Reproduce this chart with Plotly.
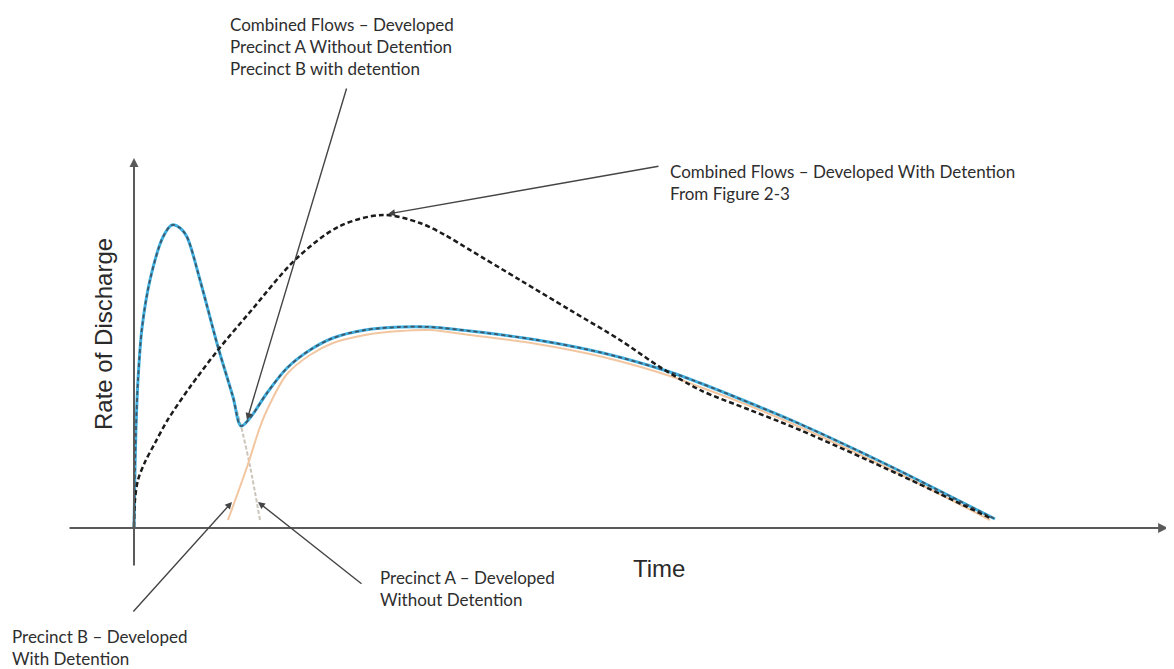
import plotly.graph_objects as go

# ---- data (time units, discharge units; arbitrary schematic scale) ----
# Precinct A - developed without detention (sharp early peak)
a_time = [0, 1, 2, 4, 8, 16, 29, 38, 46, 53, 66, 84, 99, 107, 116, 126]
a_flow = [0, 60, 100, 148, 200, 248, 291, 303, 300, 291, 248, 181, 131, 102, 62, 8]

# Precinct B - developed with detention (delayed, attenuated)
b_time = [94, 113, 126, 133, 153, 176, 199, 231, 266, 296, 336, 403, 469, 536,
          566, 616, 666, 716, 766, 856]
b_flow = [8, 61, 101, 118, 154, 173, 185, 193, 197, 198, 193, 184, 171, 152,
          141, 122, 101, 78, 54, 8]

# Combined flows - Precinct A without detention + Precinct B with detention
c_time = [0, 1, 2, 4, 8, 16, 29, 38, 46, 53, 66, 84, 99, 107, 116, 133, 153,
          176, 199, 231, 266, 296, 336, 403, 469, 536, 566, 616, 666, 716, 766, 861]
c_flow = [0, 60, 100, 148, 200, 248, 291, 303, 300, 291, 248, 181, 131, 102, 110, 135, 160,
          178, 190, 198, 201, 201, 197, 188, 175, 156, 145, 125, 104, 81, 57, 9]

# Combined flows - developed with detention (from Figure 2-3)
d_time = [0, 1, 4, 11, 21, 33, 56, 84, 116, 163, 206, 249, 286, 311, 336, 386,
          436, 486, 526, 566, 616, 666, 766, 856]
d_flow = [1, 28, 48, 66, 85, 107, 141, 178, 216, 270, 302, 313, 305, 293, 278, 248,
          218, 188, 161, 138, 118, 98, 53, 10]

x_label = "Time"
y_label = "Rate of Discharge"

label_top = "Combined Flows – Developed<br>Precinct A Without Detention<br>Precinct B with detention"
label_det = "Combined Flows – Developed With Detention<br>From Figure 2-3"
label_a = "Precinct A – Developed<br>Without Detention"
label_b = "Precinct B – Developed<br>With Detention"

# ---- figure ----
fig = go.Figure()
spl = dict(shape="spline", smoothing=0.9)

fig.add_trace(go.Scatter(x=a_time, y=a_flow, mode="lines",
                         line=dict(color="#cbc4b8", width=2, dash="4px,2px", **spl)))
fig.add_trace(go.Scatter(x=b_time, y=b_flow, mode="lines",
                         line=dict(color="#f2c6a0", width=2, **spl)))
fig.add_trace(go.Scatter(x=c_time, y=c_flow, mode="lines",
                         line=dict(color="#3fb0e0", width=3, **spl)))
fig.add_trace(go.Scatter(x=c_time, y=c_flow, mode="lines",
                         line=dict(color="#3d5566", width=1.8, dash="4px,3px", **spl)))
fig.add_trace(go.Scatter(x=d_time, y=d_flow, mode="lines",
                         line=dict(color="#1b1b1b", width=2.5, dash="5px,3px", **spl)))

txt_font = dict(family="Lato, 'Open Sans', sans-serif", size=17, color="#2e2e2e")
arrow_col = "#454545"

def arrow(tip, tail, width=1.4, size=1.0, color=arrow_col, head=2):
    fig.add_annotation(x=tip[0], y=tip[1], ax=tail[0], ay=tail[1],
                       xref="x", yref="y", axref="x", ayref="y",
                       text="", showarrow=True, arrowhead=head, arrowsize=size,
                       arrowwidth=width, arrowcolor=color, standoff=0, startstandoff=0)

# axes drawn as arrows
arrow((1034, 0), (-66, 0), width=2.2, size=0.9, color="#5a5a5a")
arrow((0, 370), (0, -39), width=2.0, size=0.9, color="#5a5a5a")

# callout arrows
arrow((113, 108), (213, 441))   # top combined label
arrow((254, 314), (526, 362))   # combined with detention
arrow((124, 26), (229, -57))    # precinct A
arrow((98, 26), (-2, -85))      # precinct B

def label(x, y, text, **kw):
    fig.add_annotation(x=x, y=y, xref="x", yref="y", text=text, showarrow=False,
                       xanchor="left", yanchor="middle", align="left",
                       font=txt_font, **kw)

label(94, 482, label_top)
label(534, 346, label_det)
label(244, -60, label_a)
label(-124, -119, label_b)

fig.add_annotation(x=525, y=-40, xref="x", yref="y", text=x_label, showarrow=False,
                   font=dict(family="'Liberation Sans', Arial, sans-serif", size=24, color="#2a2a2a"))
fig.add_annotation(x=-31, y=194, xref="x", yref="y", text=y_label, showarrow=False,
                   textangle=-90,
                   font=dict(family="'Liberation Sans', Arial, sans-serif", size=24, color="#2a2a2a"))

# ranges compensate for the 8px page margin so the origin lands where it does in the reference
fig.update_layout(
    width=1174, height=669,
    margin=dict(l=0, r=0, t=0, b=0),
    paper_bgcolor="white", plot_bgcolor="white",
    showlegend=False,
    xaxis=dict(range=[-126, 1048], visible=False, fixedrange=True),
    yaxis=dict(range=[-149, 520], visible=False, fixedrange=True),
)

fig.write_html("out.html")
